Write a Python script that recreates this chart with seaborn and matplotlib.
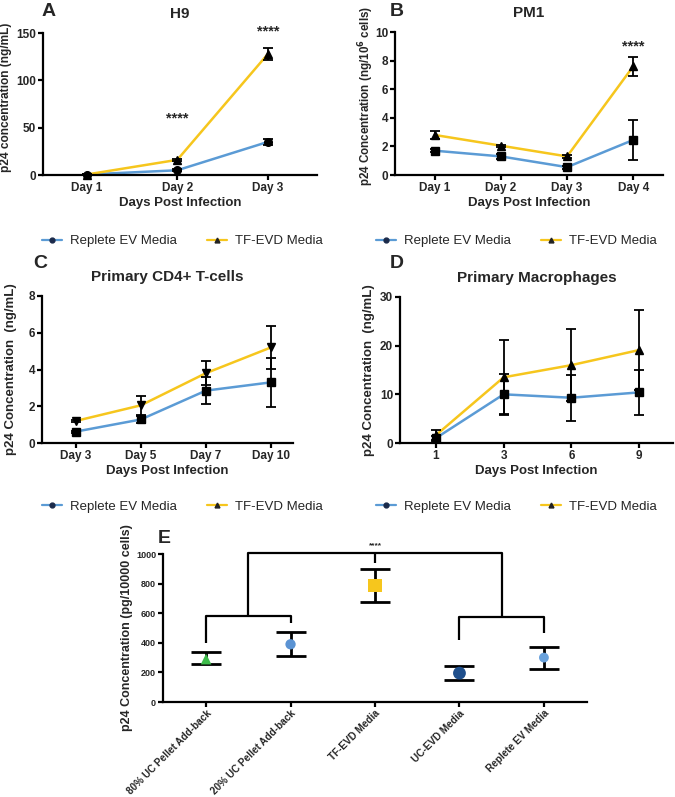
import numpy as np
import pandas as pd
import matplotlib
matplotlib.use("Agg")
import matplotlib.pyplot as plt
from matplotlib.lines import Line2D
import seaborn as sns

# ---------------- data ----------------
A_days = ["Day 1", "Day 2", "Day 3"]
A_replete = [0.5, 5.0, 35.0]
A_replete_err = [0.5, 1.0, 3.0]
A_tf = [0.5, 16.0, 128.0]
A_tf_err = [0.5, 1.0, 6.0]
A_star_days = [1, 2]
A_star_y = [60, 152]

B_days = ["Day 1", "Day 2", "Day 3", "Day 4"]
B_replete = [1.7, 1.3, 0.55, 2.45]
B_replete_err = [0.1, 0.2, 0.1, 1.38]
B_tf = [2.8, 2.05, 1.3, 7.6]
B_tf_err = [0.3, 0.08, 0.08, 0.68]
B_star_days = [3]
B_star_y = [9.0]

C_days = ["Day 3", "Day 5", "Day 7", "Day 10"]
C_replete = [0.62, 1.28, 2.85, 3.3]
C_replete_err = [0.05, 0.17, 0.75, 1.35]
C_tf = [1.2, 2.05, 3.8, 5.2]
C_tf_err = [0.05, 0.5, 0.65, 1.15]

D_days = ["1", "3", "6", "9"]
D_replete = [1.0, 10.0, 9.3, 10.4]
D_replete_err = [0.5, 4.2, 4.7, 4.6]
D_tf = [1.6, 13.5, 16.0, 19.1]
D_tf_err = [1.0, 7.6, 7.4, 8.3]

E_groups = ["80% UC Pellet Add-back", "20% UC Pellet Add-back", "TF-EVD Media",
            "UC-EVD Media", "Replete EV Media"]
E_mean = [290, 390, 785, 195, 300]
E_low = [260, 308, 675, 150, 220]
E_high = [340, 475, 900, 245, 375]
E_colors = ["#3dbb4a", "#5b93d3", "#f6c61d", "#1f4f8c", "#6aa2dc"]
E_markers = ["^", "o", "s", "o", "o"]
E_marker_sizes = [60, 55, 90, 85, 50]
# significance bracket levels (tips and bars)
E_left_tips = [400, 534]
E_left_bar = 580
E_right_tips = [419, 466]
E_right_bar = 574
E_top_bar = 1007
E_top_tick = 940
E_star_y = 1035

series_labels = ["Replete EV Media", "TF-EVD Media"]
BLUE = "#5b9bd5"
YELLOW = "#f6c61d"

# ---------------- style ----------------
sns.set_theme(style="ticks")
plt.rcParams["font.family"] = ["Liberation Sans", "DejaVu Sans"]
plt.rcParams["font.weight"] = "bold"
plt.rcParams["axes.labelweight"] = "bold"

fig = plt.figure(figsize=(6.75, 7.97), dpi=100)
W, H = 675.0, 797.0


def add_ax(left, right, top, bottom):
    return fig.add_axes([left / W, 1 - bottom / H, (right - left) / W, (bottom - top) / H])


def style(ax, tick_size=8.5):
    sns.despine(ax=ax)
    for s in ["left", "bottom"]:
        ax.spines[s].set_linewidth(1.6)
        ax.spines[s].set_color("black")
    ax.tick_params(axis="both", width=1.6, length=3.5, color="black",
                   labelsize=tick_size, pad=1.5)
    for lab in ax.get_xticklabels() + ax.get_yticklabels():
        lab.set_fontweight("bold")


def line_panel(ax, days, rep, rep_err, tf, tf_err, m_rep, m_tf, title, ylabel,
               ylim, yticks, xlim, ylab_xy, ylab_size=9.5):
    df = pd.DataFrame({
        "pos": list(range(len(days))) * 2,
        "val": list(rep) + list(tf),
        "series": [series_labels[0]] * len(days) + [series_labels[1]] * len(days),
    })
    sns.lineplot(data=df, x="pos", y="val", hue="series",
                 palette={series_labels[0]: BLUE, series_labels[1]: YELLOW},
                 linewidth=1.8, ax=ax, legend=False, errorbar=None)
    pos = np.arange(len(days))
    ax.errorbar(pos, tf, yerr=tf_err, fmt=m_tf, color="black", ms=5.5,
                capsize=3.5, elinewidth=1.3, capthick=1.3, zorder=4, clip_on=False)
    ax.errorbar(pos, rep, yerr=rep_err, fmt=m_rep, color="black", ms=5.5,
                capsize=3.5, elinewidth=1.3, capthick=1.3, zorder=4, clip_on=False)
    ax.set_xticks(pos)
    ax.set_xticklabels(days)
    ax.set_xlim(*xlim)
    ax.set_ylim(*ylim)
    ax.set_yticks(yticks)
    ax.set_xlabel("Days Post Infection", fontsize=9.5, fontweight="bold", labelpad=2)
    ax.set_ylabel(ylabel, fontsize=ylab_size, fontweight="bold")
    ax.yaxis.set_label_coords(*ylab_xy)
    ax.set_title(title, fontsize=11, fontweight="bold", pad=11)
    style(ax)


# Panel A
axA = add_ax(43, 317, 33, 175)
line_panel(axA, A_days, A_replete, A_replete_err, A_tf, A_tf_err, "o", "^",
           "H9", "p24 concentration (ng/mL)", (0, 150), [0, 50, 100, 150], (-0.48, 2.54),
           (-0.112, 0.55), 8.6)
for d, y in zip(A_star_days, A_star_y):
    axA.text(d, y, "****", ha="center", va="center", fontsize=10.5, fontweight="bold")

# Panel B
axB = add_ax(395, 663, 32, 175)
line_panel(axB, B_days, B_replete, B_replete_err, B_tf, B_tf_err, "s", "^",
           "PM1", "p24 Concentration (ng/10$^{\\mathbf{6}}$ cells)", (0, 10),
           [0, 2, 4, 6, 8, 10], (-0.6, 3.45), (-0.07, 0.55), 8.4)
for d, y in zip(B_star_days, B_star_y):
    axB.text(d, y, "****", ha="center", va="center", fontsize=10.5, fontweight="bold")

# Panel C
axC = add_ax(42, 293, 296, 443)
line_panel(axC, C_days, C_replete, C_replete_err, C_tf, C_tf_err, "s", "v",
           "Primary CD4+ T-cells", "p24 Concentration  (ng/mL)", (0, 8),
           [0, 2, 4, 6, 8], (-0.52, 3.34), (-0.1, 0.5))

# Panel D
axD = add_ax(400, 673, 297, 443)
line_panel(axD, D_days, D_replete, D_replete_err, D_tf, D_tf_err, "s", "^",
           "Primary Macrophages", "p24 Concentration  (ng/mL)", (0, 30),
           [0, 10, 20, 30], (-0.53, 3.5), (-0.092, 0.5))

# legends
handles = [Line2D([0], [0], color=BLUE, lw=1.6, marker="o", ms=3.5,
                  mfc="#1b2a4a", mec="#1b2a4a"),
           Line2D([0], [0], color=YELLOW, lw=1.6, marker="^", ms=3.5,
                  mfc="#222222", mec="#222222")]
for lx, ly in [(30, 241), (364, 241), (30, 507), (364, 507)]:
    fig.legend(handles, series_labels, loc="center left",
               bbox_to_anchor=(lx / W, 1 - ly / H), ncol=2, frameon=False,
               handlelength=1.5, handletextpad=0.6, columnspacing=2.3,
               prop={"family": "Liberation Sans", "size": 9.5, "weight": "normal"})

# Panel E
axE = add_ax(163, 587, 554, 702)
pos = np.arange(len(E_groups))
mean = np.array(E_mean)
yerr = np.vstack([mean - np.array(E_low), np.array(E_high) - mean])
axE.errorbar(pos, mean, yerr=yerr, fmt="none", ecolor="black", elinewidth=2.0,
             capsize=10.5, capthick=2.0, zorder=2)
dfE = pd.DataFrame({"group": E_groups, "pos": pos, "mean": E_mean})
for i in range(len(E_groups)):
    sns.scatterplot(data=dfE.iloc[[i]], x="pos", y="mean", color=E_colors[i],
                    marker=E_markers[i], s=E_marker_sizes[i], edgecolor="none",
                    ax=axE, zorder=3, legend=False)
# brackets
lk = dict(color="black", lw=1.6, clip_on=False, solid_capstyle="butt")
axE.plot([0, 0, 1, 1], [E_left_tips[0], E_left_bar, E_left_bar, E_left_tips[1]], **lk)
axE.plot([3, 3, 4, 4], [E_right_tips[0], E_right_bar, E_right_bar, E_right_tips[1]], **lk)
lmid, rmid = 0.5, 3.5
axE.plot([lmid, lmid, rmid, rmid], [E_left_bar, E_top_bar, E_top_bar, E_right_bar], **lk)
axE.plot([2, 2], [E_top_bar, E_top_tick], **lk)
axE.text(2, E_star_y, "****", ha="center", va="bottom", fontsize=6, fontweight="bold")
axE.set_xlim(-0.51, 4.51)
axE.set_ylim(0, 1000)
axE.set_yticks([0, 200, 400, 600, 800, 1000])
axE.set_xticks(pos)
axE.set_xticklabels(E_groups, rotation=45, ha="right", rotation_mode="anchor")
axE.set_xlabel("")
axE.set_ylabel("p24 Concentration (pg/10000 cells)", fontsize=9, fontweight="bold")
axE.yaxis.set_label_coords(-0.071, 0.5)
style(axE, tick_size=6.5)
axE.tick_params(axis="x", labelsize=7.2, pad=1)
for lab in axE.get_xticklabels():
    lab.set_fontweight("bold")

# panel letters
for letter, x, y in [("A", 42, 16), ("B", 390, 16), ("C", 33, 268), ("D", 390, 268), ("E", 158, 543)]:
    fig.text(x / W, 1 - y / H, letter, fontsize=14, fontweight="bold", ha="left", va="baseline")

fig.savefig("out.png", dpi=100, facecolor="white")
